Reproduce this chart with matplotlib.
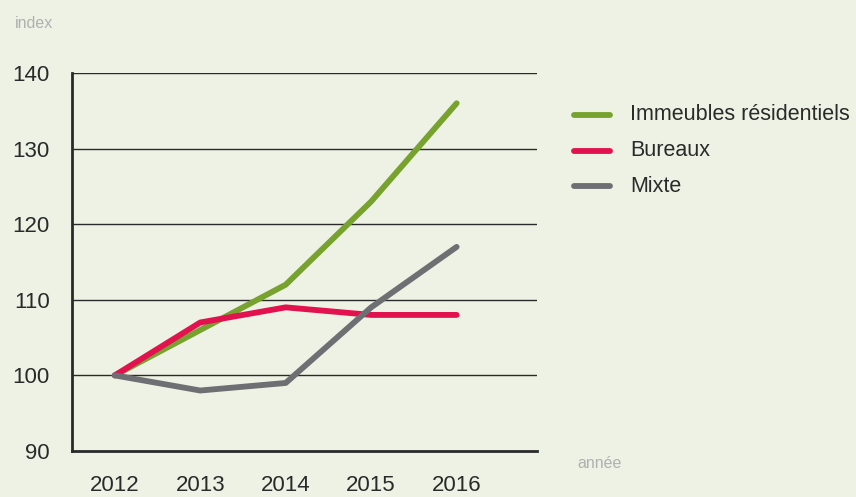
import matplotlib.pyplot as plt

years = [2012, 2013, 2014, 2015, 2016]
residentiel = [100, 106, 112, 123, 136]
bureaux = [100, 107, 109, 108, 108]
mixte = [100, 98, 99, 109, 117]
labels = ['Immeubles résidentiels', 'Bureaux', 'Mixte']
colors = ['#76a22d', '#e2124f', '#6e6f73']

plt.rcParams['font.family'] = ['Liberation Sans', 'DejaVu Sans']

bg = '#eef2e4'
fig = plt.figure(figsize=(8.56, 4.97), dpi=100, facecolor=bg)
ax = fig.add_axes([72 / 856, 1 - 451 / 497, (537 - 72) / 856, (451 - 73) / 497])
ax.set_facecolor(bg)

for yv in [100, 110, 120, 130, 140]:
    ax.axhline(yv, color='#2a2a2a', lw=1.0, zorder=1)

for series, c in zip([residentiel, bureaux, mixte], colors):
    ax.plot(years, series, color=c, lw=4.2, solid_capstyle='round', zorder=3)

ax.set_xlim(2011.5, 2016.94)
ax.set_ylim(90, 140)
ax.set_yticks([90, 100, 110, 120, 130, 140])
ax.set_xticks(years)
ax.tick_params(length=0, labelsize=16, colors='#2a2a2a')
ax.tick_params(axis='y', pad=16)
ax.tick_params(axis='x', pad=17)
for s in ['top', 'right']:
    ax.spines[s].set_visible(False)
for s in ['left', 'bottom']:
    ax.spines[s].set_linewidth(2)
    ax.spines[s].set_color('#2a2a2a')

fig.text(15 / 856, 1 - 24 / 497, 'index', fontsize=11.5, color='#b0b0b0', va='center')
fig.text(577 / 856, 1 - 463 / 497, 'année', fontsize=11.5, color='#b0b0b0', va='center')

# legend drawn manually
for i, (lab, c) in enumerate(zip(labels, colors)):
    y = 1 - (115 + 35.5 * i) / 497
    fig.add_artist(plt.Line2D([574 / 856, 610 / 856], [y, y], color=c, lw=4.2,
                              solid_capstyle='round', transform=fig.transFigure))
    fig.text(630 / 856, y, lab, fontsize=15.5, color='#2a2a2a', va='center')

fig.savefig('out.png', dpi=100, facecolor=bg)
